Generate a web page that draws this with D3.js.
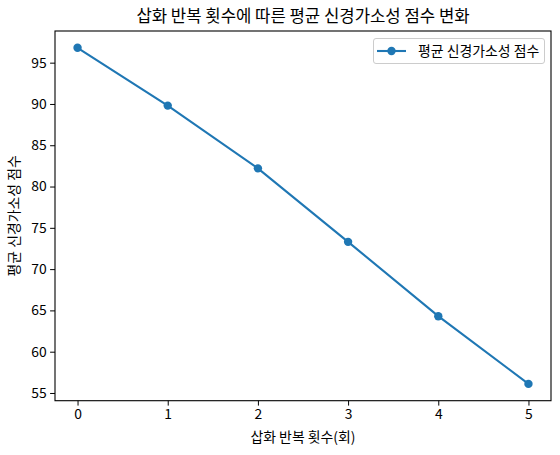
<!doctype html>
<html>
<head>
<meta charset="utf-8">
<script src="https://d3js.org/d3.v7.min.js"></script>
<style>
  body { margin: 0; background: #fff; }
  svg { font-family: "Noto Sans CJK KR", "Noto Sans", sans-serif; }
</style>
</head>
<body>
<svg width="560" height="455"></svg>
<script>
    // data
    var counts = [0, 1, 2, 3, 4, 5];
    var scores = [96.8, 89.8, 82.2, 73.3, 64.3, 56.1];
    var yTicks = [55, 60, 65, 70, 75, 80, 85, 90, 95];
    var seriesName = "평균 신경가소성 점수";

    var svg = d3.select("svg"),
        plotL = 55, plotR = 551, plotT = 31, plotB = 400.7,
        color = "#1f77b4";

    // matplotlib style 5% padding
    var lo = d3.min(scores), hi = d3.max(scores), pad = (hi - lo) * 0.05;
    var xScale = d3.scaleLinear().domain([-0.25, 5.25]).range([plotL, plotR]),
        yScale = d3.scaleLinear().domain([lo - pad, hi + pad]).range([plotB, plotT]);

    var xAxis = svg.append("g")
        .attr("transform", "translate(0," + plotB + ")")
        .call(d3.axisBottom(xScale).tickValues(counts).tickFormat(d3.format("d")).tickSizeOuter(0).tickSize(4.9).tickPadding(3.5));
    var yAxis = svg.append("g")
        .attr("transform", "translate(" + plotL + ",0)")
        .call(d3.axisLeft(yScale).tickValues(yTicks).tickSizeOuter(0).tickSize(4.9).tickPadding(3.5));

    [xAxis, yAxis].forEach(function(a) {
        a.select(".domain").remove();
        a.selectAll(".tick line").attr("stroke", "#000").attr("stroke-width", 1);
        a.selectAll(".tick text").attr("font-size", "13.9px").attr("fill", "#000")
         .attr("font-family", "Noto Sans CJK KR");
    });

    svg.append("rect")
       .attr("x", plotL).attr("y", plotT)
       .attr("width", plotR - plotL).attr("height", plotB - plotT)
       .attr("fill", "none").attr("stroke", "#000").attr("stroke-width", 1.1);

    var line = d3.line()
        .x(function(d, i) { return xScale(counts[i]); })
        .y(function(d) { return yScale(d); });

    svg.append("path")
       .datum(scores)
       .attr("d", line)
       .attr("fill", "none")
       .attr("stroke", color)
       .attr("stroke-width", 2.1);

    svg.selectAll(".dot")
       .data(scores)
       .enter().append("circle")
       .attr("class", "dot")
       .attr("cx", function(d, i) { return xScale(counts[i]); })
       .attr("cy", function(d) { return yScale(d); })
       .attr("r", 4.2)
       .attr("fill", color);

    // title and axis labels
    svg.append("text")
       .attr("x", (plotL + plotR) / 2).attr("y", 22)
       .attr("text-anchor", "middle")
       .attr("font-size", "16.7px")
       .text("삽화 반복 횟수에 따른 평균 신경가소성 점수 변화");

    svg.append("text")
       .attr("x", (plotL + plotR) / 2).attr("y", 442)
       .attr("text-anchor", "middle")
       .attr("font-size", "13.9px")
       .text("삽화 반복 횟수(회)");

    svg.append("text")
       .attr("transform", "translate(19," + (plotT + plotB) / 2 + ") rotate(-90)")
       .attr("text-anchor", "middle")
       .attr("font-size", "13.9px")
       .text("평균 신경가소성 점수");

    // legend
    var lg = svg.append("g");
    lg.append("rect")
      .attr("x", 373.5).attr("y", 38.5).attr("width", 171).attr("height", 25).attr("rx", 2.5)
      .attr("fill", "#fff").attr("fill-opacity", 0.8).attr("stroke", "#ccc");
    lg.append("line")
      .attr("x1", 377).attr("x2", 406).attr("y1", 51).attr("y2", 51)
      .attr("stroke", color).attr("stroke-width", 2.1);
    lg.append("circle").attr("cx", 391.5).attr("cy", 51).attr("r", 4.2).attr("fill", color);
    lg.append("text")
      .attr("x", 418).attr("y", 56)
      .attr("font-size", "13.9px")
      .text(seriesName);
</script>
</body>
</html>
